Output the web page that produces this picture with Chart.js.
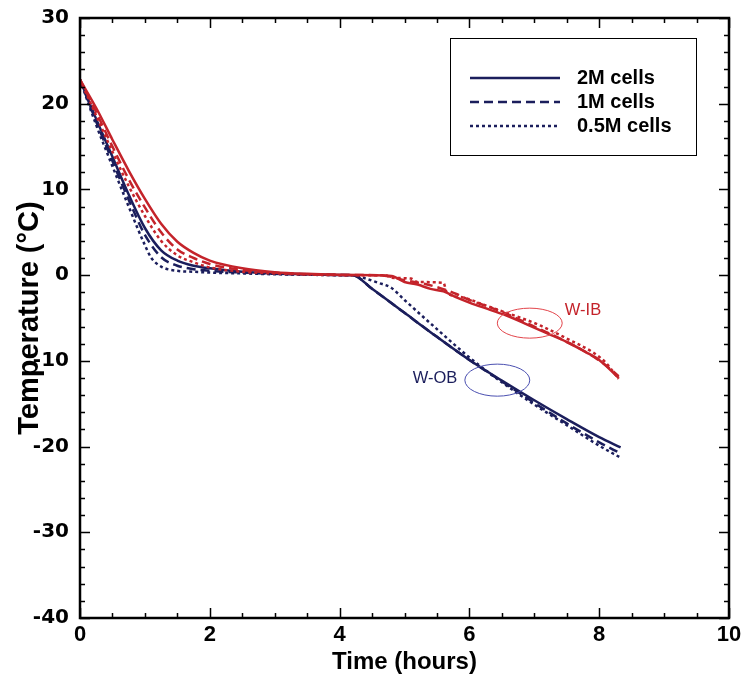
<!DOCTYPE html>
<html>
  <head>
    <title>Temperature vs time</title>
    <meta charset="utf-8" />
    <script src="https://cdn.jsdelivr.net/npm/chart.js"></script>
    <style>
      html, body { margin: 0; padding: 0; background: #fff; }
      #wrap { width: 741px; height: 680px; }
    </style>
  </head>
  <body>
    <div id="wrap"><canvas id="myChart"></canvas></div>
    <script>
      // W-IB (red) series
      const ib2mTime = [0, 0.25, 0.5, 0.75, 1, 1.25, 1.5, 1.75, 2, 2.5, 3, 3.5, 4, 4.5, 4.8, 5.0, 5.2, 5.4, 5.6, 5.8, 6.0, 6.3, 6.6, 6.9, 7.2, 7.5, 7.8, 8.0, 8.15, 8.3];
      const ib2mTemp = [22.8, 19.5, 15.8, 12.2, 8.9, 6.0, 3.9, 2.6, 1.7, 0.8, 0.35, 0.15, 0.05, 0, -0.1, -0.8, -1.1, -1.6, -1.9, -2.6, -3.2, -4.0, -4.8, -5.8, -6.8, -7.8, -9.0, -9.9, -10.9, -12.0];
      const ib1mTime = [0, 0.25, 0.5, 0.75, 1, 1.25, 1.5, 1.75, 2, 2.5, 3, 3.5, 4, 4.6, 4.8, 5.0, 5.3, 5.5, 5.8, 6.0, 6.3, 6.6, 7.0, 7.4, 7.8, 8.1, 8.3];
      const ib1mTemp = [22.8, 19.0, 15.0, 11.2, 7.9, 5.0, 3.0, 2.0, 1.3, 0.6, 0.3, 0.1, 0.03, 0, -0.2, -0.6, -1.0, -1.4, -2.2, -2.9, -3.7, -4.6, -6.0, -7.4, -9.0, -10.5, -11.8];
      const ib05mTime = [0, 0.25, 0.5, 0.75, 1, 1.25, 1.5, 1.75, 2, 2.5, 3, 3.5, 4, 4.7, 4.8, 5.1, 5.2, 5.6, 5.65, 5.9, 6.2, 6.5, 6.8, 7.1, 7.5, 7.9, 8.1, 8.3];
      const ib05mTemp = [22.8, 18.6, 14.4, 10.4, 6.9, 4.0, 2.3, 1.5, 0.9, 0.4, 0.2, 0.08, 0, 0, -0.3, -0.4, -0.8, -0.9, -2.0, -2.6, -3.4, -4.2, -5.0, -5.9, -7.4, -9.0, -10.2, -12.1];

      // W-OB (navy) series
      const ob2mTime = [0, 0.25, 0.5, 0.75, 1, 1.25, 1.5, 1.75, 2, 2.5, 3, 3.5, 4, 4.2, 4.5, 5, 5.5, 6, 6.5, 7, 7.5, 8, 8.33];
      const ob2mTemp = [22.8, 18.2, 13.8, 9.4, 5.5, 2.9, 1.7, 1.1, 0.8, 0.4, 0.2, 0.1, 0.02, 0, -1.6, -4.4, -7.2, -9.9, -12.3, -14.6, -16.8, -18.9, -20.1];
      const ob1mTime = [0, 0.25, 0.5, 0.75, 1, 1.25, 1.5, 1.75, 2, 2.5, 3, 3.5, 4, 4.2, 4.5, 5, 5.5, 6, 6.5, 7, 7.5, 8, 8.33];
      const ob1mTemp = [22.8, 17.9, 13.3, 8.8, 4.7, 2.1, 1.1, 0.7, 0.5, 0.3, 0.15, 0.08, 0.02, 0, -1.6, -4.4, -7.2, -9.9, -12.4, -14.9, -17.3, -19.5, -20.8];
      const ob05mTime = [0, 0.25, 0.5, 0.75, 1, 1.1, 1.25, 1.5, 1.75, 2, 2.5, 3, 3.5, 4, 4.2, 4.4, 4.6, 4.8, 5, 5.5, 6, 6.5, 7, 7.5, 8, 8.33];
      const ob05mTemp = [22.8, 17.5, 12.7, 8.0, 3.5, 2.0, 1.0, 0.5, 0.4, 0.3, 0.2, 0.1, 0.05, 0, 0, -0.4, -0.9, -1.5, -2.9, -6.3, -9.6, -12.5, -15.1, -17.5, -19.9, -21.3];

      const legendLabels = ["2M cells", "1M cells", "0.5M cells"];
      const xTicks = [0, 2, 4, 6, 8, 10];
      const yTicks = [-40, -30, -20, -10, 0, 10, 20, 30];

      const red = "#c4232a";
      const navy = "#1b1e5c";
      const dashes = [[], [9, 5], [3, 3]];

      function pts(t, v) {
        return t.map((x, i) => ({ x: x, y: v[i] }));
      }
      function series(label, t, v, color, dash) {
        return {
          label: label,
          data: pts(t, v),
          borderColor: color,
          borderWidth: 2.5,
          borderDash: dash,
          pointRadius: 0,
          fill: false,
          cubicInterpolationMode: "monotone",
        };
      }

      // ellipse callouts, in data units
      const callouts = [
        { text: "W-IB", cx: 6.93, cy: -5.6, rx: 0.5, ry: 1.75, tx: 7.75, ty: -4.1, line: "#e2444a", color: "#c4232a" },
        { text: "W-OB", cx: 6.43, cy: -12.25, rx: 0.5, ry: 1.87, tx: 5.47, ty: -12.0, line: "#4a4fb0", color: "#1b1e5c" },
      ];

      const framePlugin = {
        id: "frame",
        afterDraw(chart) {
          const ctx = chart.ctx;
          const a = chart.chartArea;
          const x = chart.scales.x;
          const y = chart.scales.y;
          ctx.save();
          ctx.strokeStyle = "#000";
          ctx.lineWidth = 1.5;
          ctx.beginPath();
          for (let v = 0; v <= 10.001; v += 0.5) {
            const px = Math.round(x.getPixelForValue(v)) + 0.5;
            const len = xTicks.includes(v) ? 10 : 5;
            ctx.moveTo(px, a.bottom); ctx.lineTo(px, a.bottom - len);
            ctx.moveTo(px, a.top); ctx.lineTo(px, a.top + len);
          }
          for (let v = -40; v <= 30; v += 2) {
            const py = Math.round(y.getPixelForValue(v)) + 0.5;
            const len = yTicks.includes(v) ? 10 : 5;
            ctx.moveTo(a.left, py); ctx.lineTo(a.left + len, py);
            ctx.moveTo(a.right, py); ctx.lineTo(a.right - len, py);
          }
          ctx.stroke();
          ctx.lineWidth = 2.5;
          ctx.strokeRect(a.left, a.top, a.right - a.left, a.bottom - a.top);

          // callouts
          callouts.forEach((c) => {
            const cx = x.getPixelForValue(c.cx);
            const cy = y.getPixelForValue(c.cy);
            const rx = Math.abs(x.getPixelForValue(c.cx + c.rx) - cx);
            const ry = Math.abs(y.getPixelForValue(c.cy + c.ry) - cy);
            ctx.beginPath();
            ctx.lineWidth = 1;
            ctx.strokeStyle = c.line;
            ctx.ellipse(cx, cy, rx, ry, 0, 0, Math.PI * 2);
            ctx.stroke();
            ctx.fillStyle = c.color;
            ctx.font = "16.5px 'Liberation Sans', Arial, sans-serif";
            ctx.textAlign = "center";
            ctx.textBaseline = "middle";
            ctx.fillText(c.text, x.getPixelForValue(c.tx), y.getPixelForValue(c.ty));
          });

          // legend box
          const bx = a.right - 279, by = a.top + 20, bw = 246, bh = 117;
          ctx.lineWidth = 1;
          ctx.strokeStyle = "#000";
          ctx.strokeRect(bx + 0.5, by + 0.5, bw, bh);
          ctx.font = "bold 20px 'Liberation Sans', Arial, sans-serif";
          ctx.textAlign = "left";
          ctx.textBaseline = "middle";
          legendLabels.forEach((lab, i) => {
            const ly = by + 40 + i * 24;
            ctx.beginPath();
            ctx.strokeStyle = navy;
            ctx.lineWidth = 2.5;
            ctx.setLineDash(dashes[i]);
            ctx.moveTo(bx + 20, ly);
            ctx.lineTo(bx + 110, ly);
            ctx.stroke();
            ctx.setLineDash([]);
            ctx.fillStyle = "#000";
            ctx.fillText(lab, bx + 127, ly);
          });
          ctx.restore();
        },
      };

      const ctx = document.getElementById("myChart").getContext("2d");
      const myChart = new Chart(ctx, {
        type: "line",
        data: {
          datasets: [
            series("W-IB 2M cells", ib2mTime, ib2mTemp, red, dashes[0]),
            series("W-IB 1M cells", ib1mTime, ib1mTemp, red, dashes[1]),
            series("W-IB 0.5M cells", ib05mTime, ib05mTemp, red, dashes[2]),
            series("W-OB 2M cells", ob2mTime, ob2mTemp, navy, dashes[0]),
            series("W-OB 1M cells", ob1mTime, ob1mTemp, navy, dashes[1]),
            series("W-OB 0.5M cells", ob05mTime, ob05mTemp, navy, dashes[2]),
          ],
        },
        options: {
          responsive: true,
          maintainAspectRatio: false,
          animation: false,
          layout: { padding: { top: 18, right: 12, bottom: 0, left: 0 } },
          plugins: {
            legend: { display: false },
            tooltip: { enabled: false },
          },
          scales: {
            x: {
              type: "linear",
              min: 0,
              max: 10,
              grid: { display: false, drawTicks: false, tickLength: 0 },
              border: { display: false },
              afterBuildTicks: (s) => { s.ticks = xTicks.map((v) => ({ value: v })); },
              afterFit: (s) => { s.height = 62; s.paddingLeft = 0; s.paddingRight = 0; },
              ticks: {
                padding: 4,
                color: "#000",
                maxRotation: 0,
                font: { family: "'Liberation Sans', Arial, sans-serif", size: 22, weight: "bold" },
              },
              title: {
                display: true,
                text: "Time (hours)",
                color: "#000",
                padding: { top: 0, bottom: 3 },
                font: { family: "'Liberation Sans', Arial, sans-serif", size: 24, weight: "bold" },
              },
            },
            y: {
              min: -40,
              max: 30,
              grid: { display: false, drawTicks: false, tickLength: 0 },
              border: { display: false },
              afterBuildTicks: (s) => { s.ticks = yTicks.map((v) => ({ value: v })); },
              afterFit: (s) => { s.width = 80; s.paddingTop = 0; s.paddingBottom = 0; },
              ticks: {
                padding: 11,
                color: "#000",
                font: { family: "'DejaVu Sans', sans-serif", size: 20, weight: "bold" },
              },
              title: {
                display: true,
                text: "Temperature (°C)",
                color: "#000",
                padding: { top: 13, bottom: 0 },
                font: { family: "'Liberation Sans', Arial, sans-serif", size: 29, weight: "bold" },
              },
            },
          },
        },
        plugins: [framePlugin],
      });
    </script>
  </body>
</html>
